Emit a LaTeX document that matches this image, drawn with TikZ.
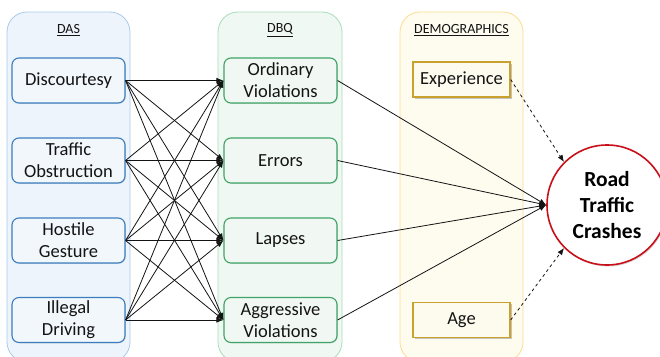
\documentclass[tikz,border=0pt]{standalone}
\usepackage{fontspec}
\setmainfont{Carlito}
\usetikzlibrary{arrows.meta,shadows}
\definecolor{dasfill}{HTML}{EEF4FB}
\definecolor{dasline}{HTML}{A9CBEA}
\definecolor{dasbox}{HTML}{F2F7FC}
\definecolor{dasboxline}{HTML}{3C7DBF}
\definecolor{dbqfill}{HTML}{EFF8F2}
\definecolor{dbqline}{HTML}{A8DDB9}
\definecolor{dbqbox}{HTML}{F1F8F3}
\definecolor{dbqboxline}{HTML}{3EA566}
\definecolor{demfill}{HTML}{FEFBEF}
\definecolor{demline}{HTML}{FBDF8E}
\definecolor{dembox}{HTML}{FDFAEE}
\definecolor{demboxline}{HTML}{C9A22E}
\definecolor{rtcred}{HTML}{C8101A}
\definecolor{txt}{HTML}{141414}
\tikzset{
  panel/.style={rounded corners=20pt, line width=0.8pt},
  hdr/.style={font=\fontsize{14}{16}\selectfont, text=txt},
  boxbase/.style={rectangle, rounded corners=7pt, line width=1.1pt, minimum width=113pt,
    minimum height=45pt, align=center, text=txt, inner sep=1pt,
    font=\fontsize{18.5}{22}\selectfont,
    drop shadow={shadow xshift=0.8pt, shadow yshift=-0.8pt, opacity=0.25}},
  dasnode/.style={boxbase, draw=dasboxline, fill=dasbox},
  dbqnode/.style={boxbase, draw=dbqboxline, fill=dbqbox},
  demnode/.style={rectangle, draw=demboxline, fill=dembox, line width=1.3pt,
    minimum width=97pt, minimum height=35pt, text=txt, inner sep=1pt,
    font=\fontsize{18.5}{22}\selectfont,
    drop shadow={shadow xshift=1.5pt, shadow yshift=-1.5pt, opacity=0.45}},
  arr/.style={-{Latex[length=7pt,width=5.5pt]}, line width=0.8pt, draw=txt},
  darr/.style={arr, dashed},
}
\begin{document}
\begin{tikzpicture}[x=1pt,y=-1pt]
\useasboundingbox (0,0) rectangle (660,356);
\clip (0,0) rectangle (660,356);
\fill[white] (0,0) rectangle (660,356);
% panels
\draw[panel, fill=dasfill, draw=dasline] (7,12) rectangle (130,362);
\draw[panel, fill=dbqfill, draw=dbqline] (218,12) rectangle (342,362);
\draw[panel, fill=demfill, draw=demline] (400,12) rectangle (523,362);
\node[hdr] (hdas) at (68.5,30) {\underline{DAS}};
\node[hdr] (hdbq) at (280,30) {\underline{DBQ}};
\node[hdr] (hdem) at (461.5,30) {\underline{DEMOGRAPHICS}};
% DAS nodes
\node[dasnode] (d1) at (68.5,80.5) {Discourtesy};
\node[dasnode] (d2) at (68.5,160.5) {Traffic\\Obstruction};
\node[dasnode] (d3) at (68.5,240.5) {Hostile\\Gesture};
\node[dasnode] (d4) at (68.5,320) {Illegal\\Driving};
% DBQ nodes
\node[dbqnode] (q1) at (280.5,80.5) {Ordinary\\Violations};
\node[dbqnode] (q2) at (280.5,160.5) {Errors};
\node[dbqnode] (q3) at (280.5,240.5) {Lapses};
\node[dbqnode] (q4) at (280.5,320) {Aggressive\\Violations};
% demographics
\node[demnode] (exp) at (461.5,79.5) {Experience};
\node[demnode] (age) at (461.5,320) {Age};
% outcome
\node[circle, draw=rtcred, fill=white, line width=1.6pt, minimum size=120pt, align=center,
  text=black, inner sep=0pt, font=\bfseries\fontsize{21.5}{26}\selectfont,
  drop shadow={shadow xshift=1pt, shadow yshift=-1.5pt, opacity=0.3}] (rtc) at (607,205)
  {Road\\Traffic\\Crashes};
% connectors
\foreach \i in {1,...,4}{
  \foreach \j in {1,...,4}{
    \draw[arr] (d\i.east) -- (q\j.west);
  }
  \draw[arr] (q\i.east) -- (rtc.west);
}
\draw[darr] (exp.east) -- (rtc.north west);
\draw[darr] (age.east) -- (rtc.south west);
\end{tikzpicture}
\end{document}
